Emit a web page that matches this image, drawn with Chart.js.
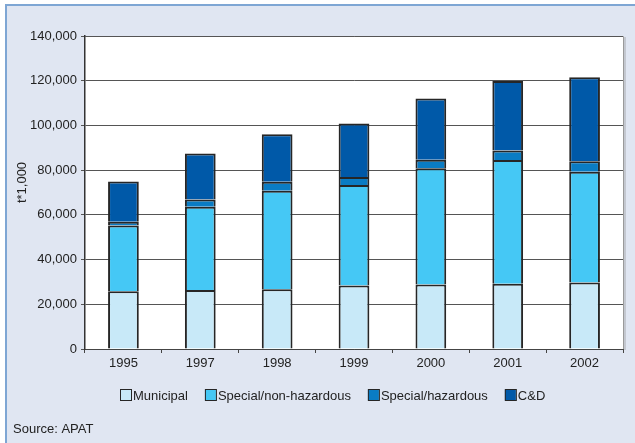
<!DOCTYPE html>
<html>
<head>
<meta charset="utf-8">
<script src="https://cdn.jsdelivr.net/npm/chart.js@4/dist/chart.umd.min.js"></script>
<style>
  html, body { margin: 0; padding: 0; background: #fff; }
  #wrap { width: 635px; height: 443px; }
</style>
</head>
<body>
<div id="wrap"><canvas id="waste" width="635" height="443"></canvas></div>
<script>
// waste production by type, thousand tonnes
const years = ['1995', '1997', '1998', '1999', '2000', '2001', '2002'];
const municipal = [25800, 26400, 26700, 28400, 28900, 29200, 29700];
const specialNonHaz = [29400, 37200, 44100, 44900, 51900, 55300, 49600];
const specialHaz = [1700, 3300, 4000, 3600, 3900, 4300, 4700];
const constructionDemolition = [18000, 20600, 21300, 24000, 27400, 31100, 37600];

const seriesNames = ['Municipal', 'Special/non-hazardous', 'Special/hazardous', 'C&D'];
const seriesColors = ['#c8e9f8', '#45c8f5', '#0a7cc4', '#0059a8'];

const FONT = "'Liberation Sans', Arial, sans-serif";
const TEXT = '#222';
const EDGE = '#262626';

// panel background, frame lines and white plot area
const panel = {
  id: 'panel',
  beforeDraw(chart) {
    const { ctx, chartArea: a, width, height } = chart;
    ctx.save();
    ctx.fillStyle = '#fff';
    ctx.fillRect(0, 0, width, height);
    ctx.fillStyle = '#e0e6f2';
    ctx.fillRect(6, 5, width - 6, height - 5);
    ctx.fillStyle = '#7ea6d4';
    ctx.fillRect(5, 4, width - 5, 2);
    ctx.fillRect(5, 4, 2, height - 4);
    ctx.fillStyle = '#fff';
    ctx.fillRect(a.left, a.top, a.right - a.left, a.bottom - a.top);
    ctx.fillStyle = '#c4c8d0';
    ctx.fillRect(a.right + 1, a.top + 1, 2, a.bottom - a.top);
    ctx.strokeStyle = '#9a9a9a';
    ctx.lineWidth = 1;
    ctx.beginPath();
    ctx.moveTo(a.left, a.top + 0.5);
    ctx.lineTo(a.right + 0.5, a.top + 0.5);
    ctx.lineTo(a.right + 0.5, a.bottom);
    ctx.stroke();
    ctx.restore();
  },
  afterDraw(chart) {
    const { ctx, chartArea: a } = chart;
    ctx.save();
    ctx.font = '13px ' + FONT;
    ctx.fillStyle = TEXT;

    // axis title
    ctx.save();
    ctx.translate(22, (a.top + a.bottom) / 2 - 10);
    ctx.rotate(-Math.PI / 2);
    ctx.textAlign = 'center';
    ctx.textBaseline = 'middle';
    ctx.fillText('t*1,000', 0, 0);
    ctx.restore();

    // legend row
    ctx.textBaseline = 'middle';
    ctx.textAlign = 'left';
    let x = 120;
    const y = 395;
    chart.data.datasets.forEach(ds => {
      ctx.fillStyle = ds.backgroundColor;
      ctx.fillRect(x, y - 5.5, 11, 11);
      ctx.strokeStyle = EDGE;
      ctx.lineWidth = 1;
      ctx.strokeRect(x + 0.5, y - 5.5, 11, 11);
      ctx.fillStyle = TEXT;
      ctx.fillText(ds.label, x + 13, y + 1);
      x += 13 + ctx.measureText(ds.label).width + 17;
    });

    ctx.fillText('Source: APAT', 13, 429);
    ctx.restore();
  }
};

const stacks = [municipal, specialNonHaz, specialHaz, constructionDemolition];

new Chart(document.getElementById('waste'), {
  type: 'bar',
  data: {
    labels: years,
    datasets: stacks.map((values, i) => ({
      label: seriesNames[i],
      data: values,
      backgroundColor: seriesColors[i],
      borderColor: EDGE,
      borderWidth: 2,
      borderSkipped: 'start',
      inflateAmount: 0,
      categoryPercentage: 1,
      barPercentage: 0.4
    }))
  },
  options: {
    responsive: false,
    animation: false,
    layout: { padding: { top: 36, right: 12, bottom: 0, left: 0 } },
    plugins: {
      legend: { display: false },
      tooltip: { enabled: false }
    },
    scales: {
      x: {
        stacked: true,
        offset: true,
        grid: {
          offset: true,
          drawOnChartArea: false,
          drawTicks: true,
          tickLength: 4,
          color: '#444'
        },
        border: { color: '#444', width: 1 },
        ticks: {
          padding: 3,
          color: TEXT,
          font: { family: FONT, size: 13 }
        },
        afterFit(scale) { scale.height = 94; }
      },
      y: {
        stacked: true,
        min: 0,
        max: 140000,
        grid: {
          color: '#555',
          tickLength: 4
        },
        border: { color: '#333', width: 1.5 },
        ticks: {
          stepSize: 20000,
          padding: 4,
          color: TEXT,
          font: { family: FONT, size: 13 },
          callback: v => v.toLocaleString('en-US')
        },
        afterFit(scale) { scale.width = 85; }
      }
    }
  },
  plugins: [panel]
});
</script>
</body>
</html>
